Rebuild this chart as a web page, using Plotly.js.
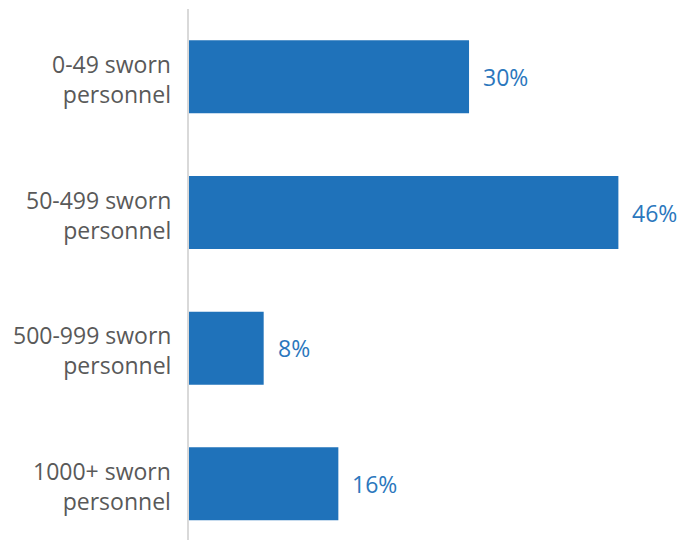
<!DOCTYPE html>
<html>
<head>
<meta charset="utf-8">
<script src="https://cdn.plot.ly/plotly-3.0.1.min.js"></script>
<style>html,body{margin:0;padding:0;background:#fff;}#chart{width:680px;height:540px;}</style>
</head>
<body>
<div id="chart"></div>
<script>
const categories = ["0-49 sworn<br>personnel", "50-499 sworn<br>personnel", "500-999 sworn<br>personnel", "1000+ sworn<br>personnel"];
const values = [30, 46, 8, 16];
const valueLabels = ["30%", "46%", "8%", "16%"];

const barColor = "#1f72ba";
const labelColor = "#2b77bd";
const catColor = "#595959";

const trace = {
  type: "bar",
  orientation: "h",
  y: categories,
  x: values,
  marker: {color: barColor},
  hoverinfo: "none"
};

const valueAnn = categories.map((c, i) => ({
  x: values[i], y: c, xref: "x", yref: "y",
  text: valueLabels[i], showarrow: false,
  xanchor: "left", yanchor: "middle", xshift: 12,
  font: {family: "Open Sans", size: 23, color: labelColor}
}));

const catAnn = categories.map((c) => ({
  x: 0, y: c, xref: "paper", yref: "y",
  text: c, showarrow: false, align: "right",
  xanchor: "right", yanchor: "middle", xshift: -16, yshift: -2,
  font: {family: "Open Sans", size: 23, color: catColor}
}));

const layout = {
  width: 680, height: 540,
  margin: {l: 189, r: 0, t: 9, b: 0, pad: 0},
  paper_bgcolor: "#ffffff", plot_bgcolor: "#ffffff",
  bargap: 0.462,
  showlegend: false,
  font: {family: "Open Sans", size: 23, color: catColor},
  xaxis: {range: [0, 52.6], visible: false, showgrid: false, zeroline: false},
  yaxis: {
    type: "category",
    range: [3.414, -0.5],
    showline: true, linecolor: "#d9d9d9", linewidth: 2,
    showgrid: false, zeroline: false, ticks: "",
    showticklabels: false
  },
  annotations: valueAnn.concat(catAnn)
};

Plotly.newPlot("chart", [trace], layout, {displayModeBar: false, staticPlot: true});
</script>
</body>
</html>
